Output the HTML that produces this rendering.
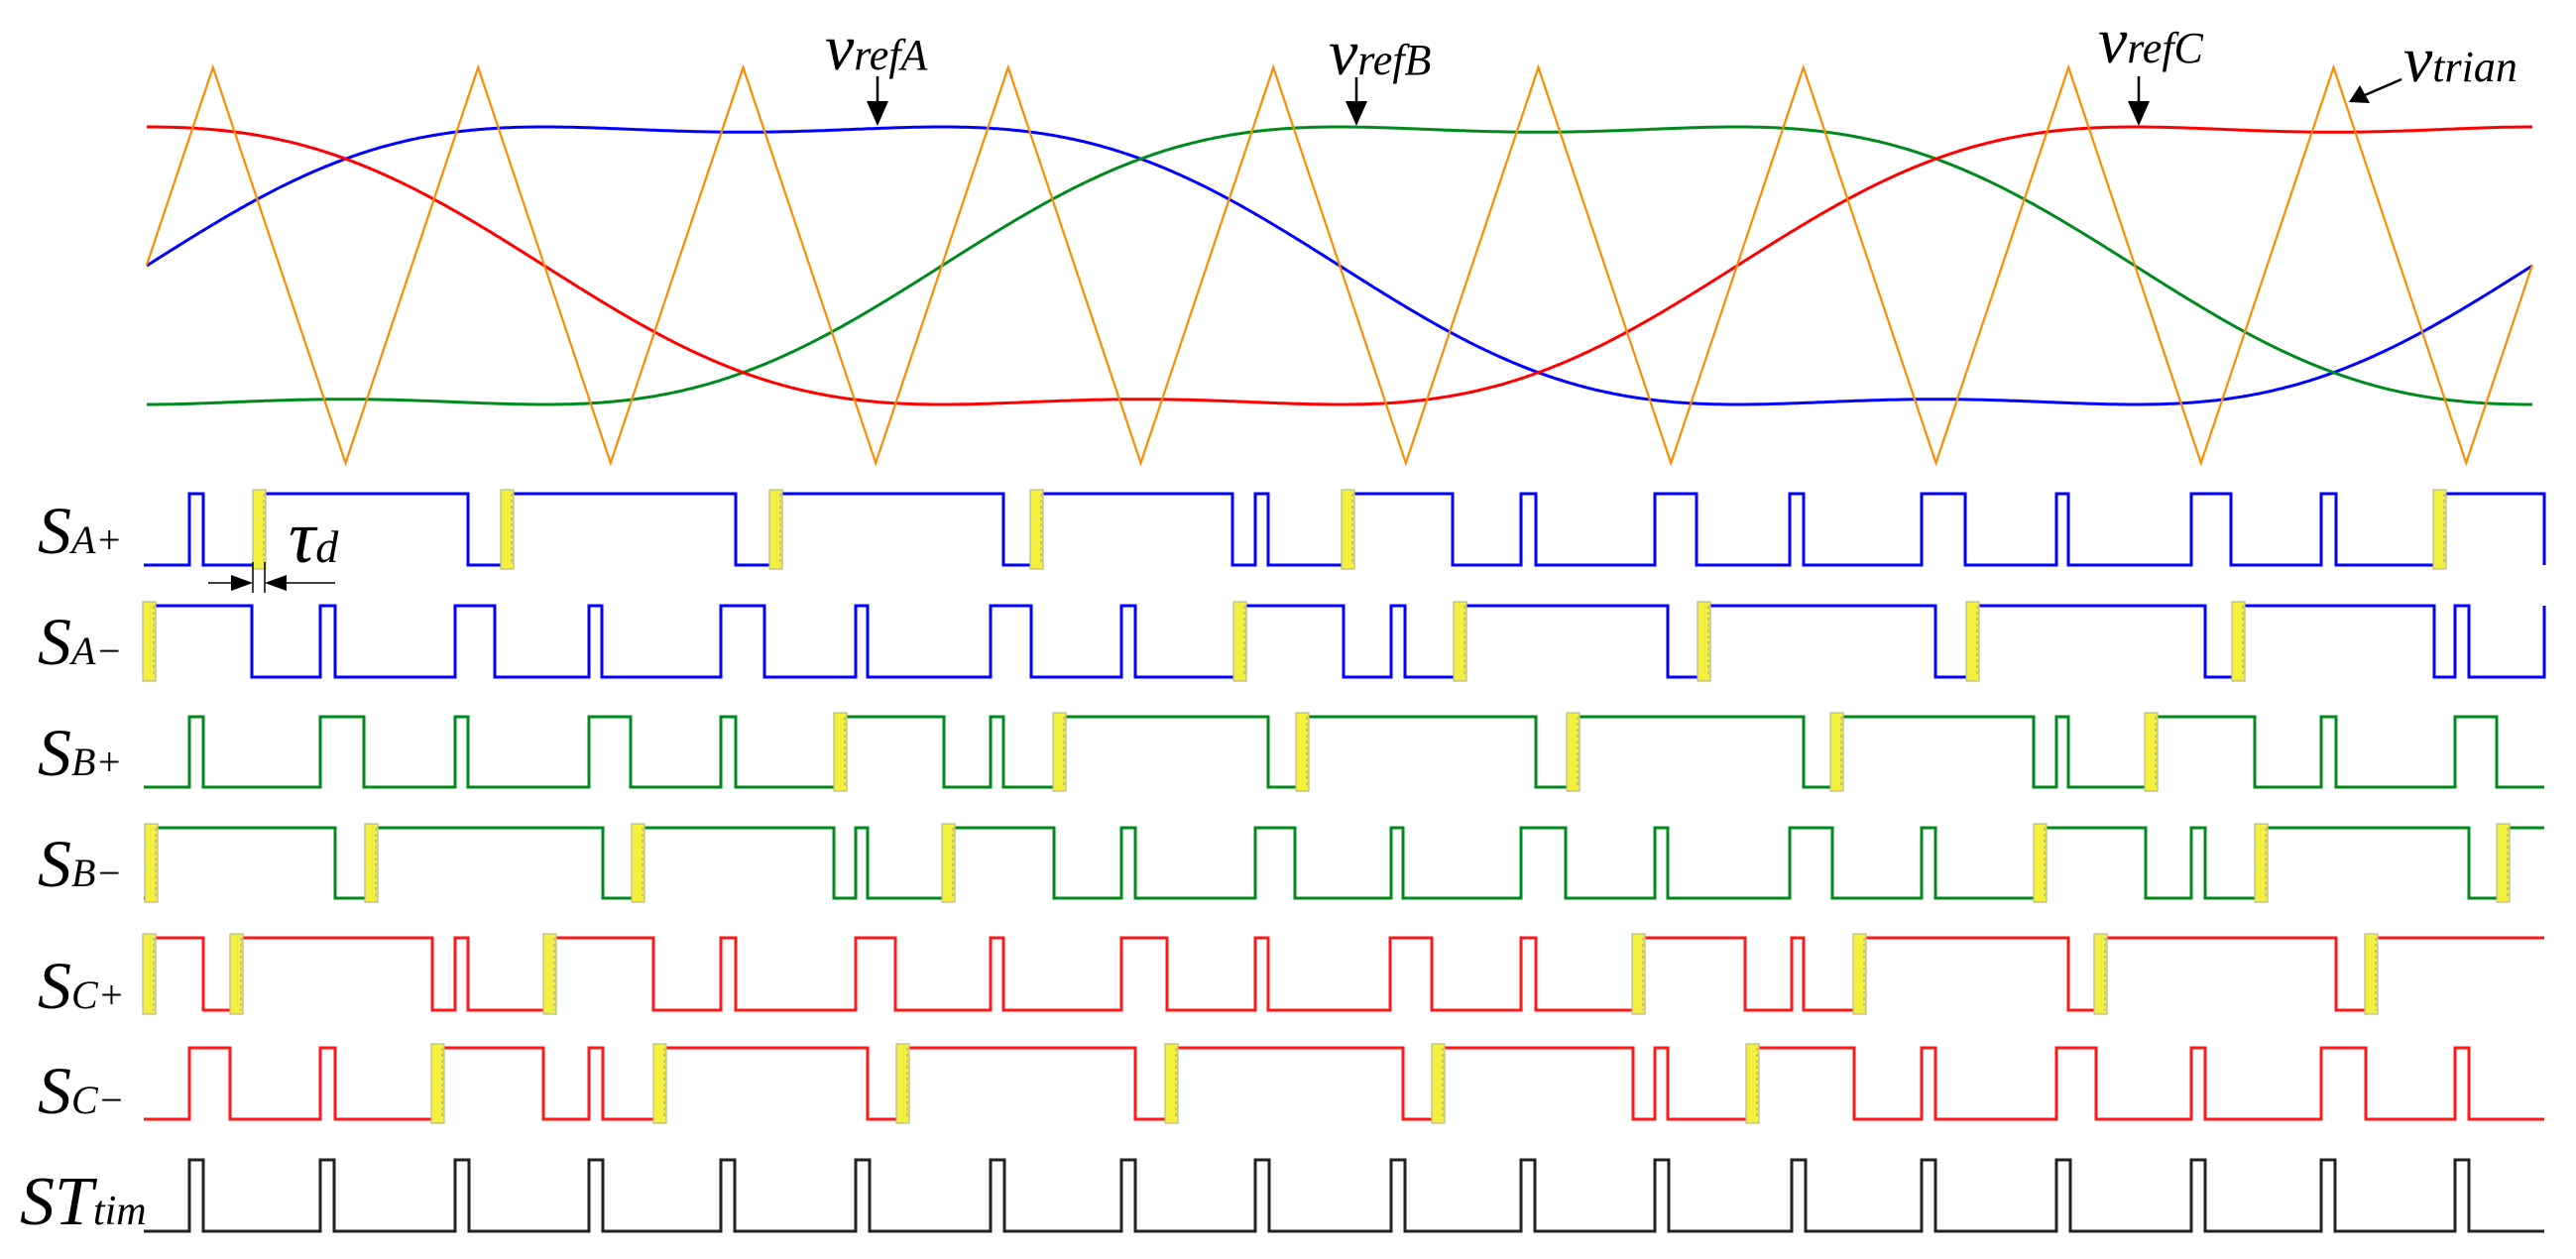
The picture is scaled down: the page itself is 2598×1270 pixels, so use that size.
<!DOCTYPE html>
<html><head><meta charset="utf-8">
<style>
html,body{margin:0;padding:0;background:#fff;}
svg{display:block;}
.lab{font-family:"Liberation Serif",serif;font-style:italic;fill:#000;}
</style></head>
<body>
<svg id="s" width="2598" height="1270" viewBox="0 0 2598 1270" xmlns="http://www.w3.org/2000/svg">
<g id="plots"></g>
<text class="lab" x="832" y="70" font-size="66">v<tspan font-size="44">refA</tspan></text>
<text class="lab" x="1340" y="75" font-size="66">v<tspan font-size="44">refB</tspan></text>
<text class="lab" x="2116" y="63" font-size="66">v<tspan font-size="44">refC</tspan></text>
<text class="lab" x="2424" y="82" font-size="66">v<tspan font-size="44">trian</tspan></text>

<g fill="#000" stroke="#000" stroke-width="2.5">
<line x1="885" y1="77" x2="885" y2="104"/><polygon points="874,102 896,102 885,127" stroke="none"/>
<line x1="1368" y1="78" x2="1368" y2="104"/><polygon points="1357,102 1379,102 1368,127" stroke="none"/>
<line x1="2157" y1="77" x2="2157" y2="104"/><polygon points="2146,102 2168,102 2157,127" stroke="none"/>
<line x1="2422" y1="80" x2="2385" y2="96"/><polygon points="2369,103 2380,86 2390,104" stroke="none"/>
</g>

<text class="lab" x="38" y="558" font-size="68">S<tspan font-size="40">A+</tspan></text>
<text class="lab" x="38" y="670" font-size="68">S<tspan font-size="40">A−</tspan></text>
<text class="lab" x="38" y="782" font-size="68">S<tspan font-size="40">B+</tspan></text>
<text class="lab" x="38" y="894" font-size="68">S<tspan font-size="40">B−</tspan></text>
<text class="lab" x="38" y="1017" font-size="68">S<tspan font-size="40">C+</tspan></text>
<text class="lab" x="38" y="1123" font-size="68">S<tspan font-size="40">C−</tspan></text>
<text class="lab" x="20" y="1235" font-size="70">ST<tspan font-size="42">tim</tspan></text>

<text class="lab" x="291" y="567" font-size="76">τ<tspan font-size="46">d</tspan></text>
<g stroke="#000" stroke-width="1.5" fill="#000">
<line x1="210" y1="588" x2="240" y2="588"/>
<line x1="282" y1="588" x2="338" y2="588"/>
<line x1="255" y1="567" x2="255" y2="598"/>
<line x1="267" y1="567" x2="267" y2="598"/>
<polygon points="233,580 233,596 255,588" stroke="none"/>
<polygon points="289,580 289,596 267,588" stroke="none"/>
</g>
</svg>
<script>
(function(){
var NS="http://www.w3.org/2000/svg",g=document.getElementById("plots");
function el(n,a){var e=document.createElementNS(NS,n);for(var k in a)e.setAttribute(k,a[k]);g.appendChild(e);return e;}
var x0=148,x1=2554,W=x1-x0;
function f(t){return (Math.sin(t)+Math.sin(3*t)/6)/0.8660254;}
function ref(ph,col){var d="";for(var x=x0;x<=x1;x+=2){var t=(x-x0)/W*2*Math.PI+ph;var y=268-140*f(t);d+=(x==x0?"M":"L")+x+","+y.toFixed(1);}el("path",{d:d,fill:"none",stroke:col,"stroke-width":3});}
ref(0,"#0000ff");ref(-2*Math.PI/3,"#008a1e");ref(2*Math.PI/3,"#ff0000");
var P=W/9,d="M"+x0+",267";
for(var k=0;k<9;k++){var b=x0+k*P;d+=" L"+(b+P/4).toFixed(1)+",68 L"+(b+3*P/4).toFixed(1)+",467";}
d+=" L"+x1+",267";
el("path",{d:d,fill:"none",stroke:"#ff8c00","stroke-width":2.2});
function sig(hi,lo,col,list,endEdge){
 var s=0,xs=145,d="M"+xs+","+lo,ys=[];
 for(var i=0;i<list.length;i++){var v=list[i],y=false;if(typeof v=="string"){y=true;v=parseFloat(v);}
  var cy=s?hi:lo;s=1-s;var ny=s?hi:lo;d+=" L"+v+","+cy+" L"+v+","+ny;if(y)ys.push(v);}
 var cy=s?hi:lo;d+=" L2566,"+cy;if(endEdge)d+=" L2566,"+(s?lo:hi);
 el("path",{d:d,fill:"none",stroke:col,"stroke-width":3});
 ys.forEach(function(v){el("rect",{x:v-6,y:hi-4,width:13,height:lo-hi+8,fill:"#f4f040",stroke:"#b8b890","stroke-width":1.2});
  el("line",{x1:v+5,y1:hi,x2:v+5,y2:lo,stroke:"#999","stroke-width":1,"stroke-dasharray":"3,3"});});
}
sig(498,570,"#0000ff",[191,205,"261",472,"511",742,"782",1012,"1045",1243,1266,1279,"1359",1465,1534,1549,1669,1711,1805,1819,1938,1982,2074,2086,2210,2250,2341,2356,"2460"],true);
sig(611,683,"#0000ff",["150",254,323,338,459,499,594,607,727,771,863,875,999,1040,1131,1145,"1250",1355,1403,1417,"1472",1682,"1718",1952,"1989",2224,"2257",2455,2476,2490],true);
sig(723,794,"#008a1e",[191,205,323,367,459,472,594,636,727,742,"847",952,999,1012,"1068",1279,"1313",1549,"1586",1819,"1852",2051,2074,2086,"2169",2274,2341,2356,2476,2518],false);
sig(835,906,"#008a1e",["152",338,"374",608,"643",841,863,875,"956",1063,1131,1145,1266,1306,1403,1415,1534,1579,1669,1682,1805,1848,1938,1952,"2057",2164,2210,2224,"2280",2490,"2524"],false);
sig(946,1019,"#ff1a1a",["150",205,"238",436,459,472,"554",659,727,742,863,903,999,1012,1131,1177,1266,1279,1402,1444,1534,1549,"1652",1760,1807,1819,"1875",2086,"2118",2356,"2391"],false);
sig(1057,1129,"#ff1a1a",[191,232,323,338,"441",548,594,608,"665",875,"910",1145,"1181",1415,"1450",1647,1669,1682,"1767",1870,1938,1952,2074,2114,2210,2224,2341,2386,2476,2490],false);
var st=[191,323,459,594,727,863,999,1131,1266,1403,1534,1669,1807,1938,2074,2210,2341,2476],L=[];
st.forEach(function(v){L.push(v,v+14);});
sig(1170,1242,"#222",L,false);
})();
</script>
</body></html>
